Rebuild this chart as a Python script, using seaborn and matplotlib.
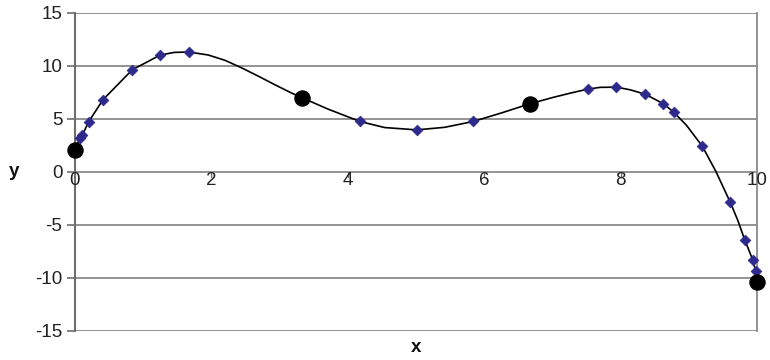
import matplotlib
matplotlib.use("Agg")
import matplotlib.pyplot as plt
import seaborn as sns
import pandas as pd

# Smooth curve samples
curve_x = [0.0, 0.07, 0.11, 0.20, 0.41, 0.84, 1.03, 1.25, 1.46, 1.67, 1.955, 2.2, 2.44, 2.69,
           2.93, 3.18, 3.33, 3.71, 4.18, 4.54, 5.01, 5.42, 5.84, 6.26, 6.67, 7.01, 7.26,
           7.52, 7.7, 7.94, 8.14, 8.36, 8.63, 8.78, 8.97, 9.2, 9.4, 9.61, 9.72,
           9.82, 9.94, 9.98, 10.0]
curve_y = [2.0, 3.17, 3.47, 4.70, 6.78, 9.61, 10.25, 11.0, 11.25, 11.28, 11.0, 10.5, 9.8, 9.0,
           8.2, 7.4, 6.97, 5.9, 4.73, 4.16, 3.94, 4.18, 4.73, 5.55, 6.4, 7.0, 7.4,
           7.78, 7.95, 7.97, 7.72, 7.31, 6.40, 5.61, 4.35, 2.39, 0.0, -2.9, -4.6,
           -6.4, -8.34, -9.35, -10.4]

# Diamond markers
diamond_x = [0.07, 0.11, 0.20, 0.41, 0.84, 1.25, 1.67, 4.18, 5.01, 5.84,
             7.52, 7.94, 8.36, 8.63, 8.78, 9.2, 9.61, 9.82, 9.94, 9.98]
diamond_y = [3.17, 3.47, 4.70, 6.78, 9.61, 11.0, 11.28, 4.73, 3.94, 4.73,
             7.82, 7.97, 7.31, 6.40, 5.61, 2.39, -2.9, -6.4, -8.34, -9.35]

# Large black circles
circle_x = [0.0, 3.33, 6.67, 10.0]
circle_y = [2.0, 6.97, 6.4, -10.4]

x_ticks = [0, 2, 4, 6, 8, 10]
y_ticks = [-15, -10, -5, 0, 5, 10, 15]

sns.set_theme(style="white")
plt.rcParams['font.family'] = ['Liberation Sans', 'DejaVu Sans']

FS = 13.5
fig = plt.figure(figsize=(7.7, 3.6), dpi=100)
ax = fig.add_axes([0.0974, 0.0814, 0.983 - 0.0974, 0.965 - 0.0814])

grid_c = "#8a8a8a"
for yv in y_ticks:
    ax.axhline(yv, color=grid_c, lw=1.3, zorder=0)

curve = pd.DataFrame({"x": curve_x, "y": curve_y})
sns.lineplot(data=curve, x="x", y="y", ax=ax, color="black", lw=1.2, sort=False, zorder=2)

dia = pd.DataFrame({"x": diamond_x, "y": diamond_y})
sns.scatterplot(data=dia, x="x", y="y", ax=ax, marker="D", s=30, color="#2e2a8c",
                edgecolor="#2e2a8c", linewidth=0.5, zorder=3, clip_on=False)

cir = pd.DataFrame({"x": circle_x, "y": circle_y})
sns.scatterplot(data=cir, x="x", y="y", ax=ax, marker="o", s=120, color="black",
                edgecolor="black", zorder=4, clip_on=False)

ax.set_xlim(0, 10)
ax.set_ylim(-15, 15)

for s in ["top", "bottom"]:
    ax.spines[s].set_visible(False)
ax.spines["left"].set_color("#6e6e6e")
ax.spines["left"].set_linewidth(1.5)
ax.spines["right"].set_color(grid_c)
ax.spines["right"].set_linewidth(1.3)

ax.set_yticks(y_ticks)
ax.set_yticklabels([str(v) for v in y_ticks])
ax.tick_params(axis="y", left=True, length=6, width=1.2, color="#6e6e6e",
               labelsize=FS, labelcolor="#222222", pad=3)

ax.set_xticks(x_ticks)
ax.set_xticklabels([])
ax.tick_params(axis="x", bottom=False)
# x axis sits at y=0: draw ticks and labels there
for xv in x_ticks[1:]:
    ax.plot([xv, xv], [0, -0.5], color="#6e6e6e", lw=1.0, zorder=1)
for xv in x_ticks:
    ax.text(xv, -0.85, str(xv), ha="center", va="center", fontsize=FS, color="#222222",
            clip_on=False)

ax.set_xlabel("")
ax.set_ylabel("")
fig.text(416 / 770, 1 - 347 / 360, "x", ha="center", va="center", fontsize=FS,
         fontweight="bold", color="#111111")
fig.text(14 / 770, 1 - 171 / 360, "y", ha="center", va="center", fontsize=FS,
         fontweight="bold", color="#111111")

fig.savefig("out.png", dpi=100)
